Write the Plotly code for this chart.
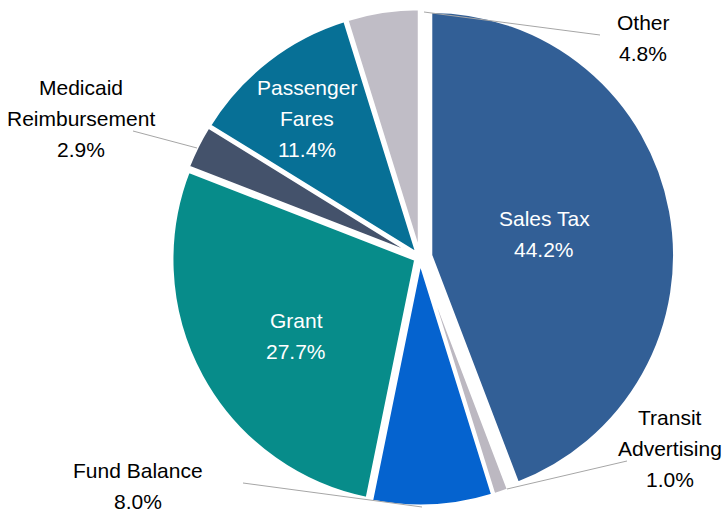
import plotly.graph_objects as go

labels = ["Sales Tax", "Transit Advertising", "Fund Balance", "Grant",
          "Medicaid Reimbursement", "Passenger Fares", "Other"]
values = [44.2, 1.0, 8.0, 27.7, 2.9, 11.4, 4.8]
colors = ["#325f96", "#bcb8c1", "#0563cf", "#078c8a", "#44526b", "#077096", "#c0bdc6"]
pulls = [0.045, 0.02, 0.02, 0.02, 0.02, 0.02, 0.02]

W, H = 724, 512

half = 0.995 * H / 2
cx = 420
fig = go.Figure(go.Pie(
    labels=labels, values=values, sort=False, direction="clockwise", rotation=0,
    marker=dict(colors=colors, line=dict(color="white", width=3)),
    pull=pulls, textinfo="none", hoverinfo="label+percent",
    domain=dict(x=[(cx - half) / W, (cx + half) / W], y=[0, 0.995]),
    showlegend=False,
))


def px(x):
    return x / W


def py(y):
    return 1 - y / H


LINE = 31
# label texts: lines, pixel centre x, pixel centre y of the block, colour
label_specs = [
    (["Sales Tax", "44.2%"], 544, 234, "white"),
    (["Grant", "27.7%"], 296, 336, "white"),
    (["Passenger", "Fares", "11.4%"], 307, 118, "white"),
    (["Other", "4.8%"], 643, 38, "black"),
    (["Medicaid", "Reimbursement", "2.9%"], 81, 118, "black"),
    (["Fund Balance", "8.0%"], 138, 486, "black"),
    (["Transit", "Advertising", "1.0%"], 670, 448, "black"),
]
for lines, x, y, col in label_specs:
    n = len(lines)
    for i, line in enumerate(lines):
        yy = y + (i - (n - 1) / 2) * LINE
        fig.add_annotation(x=px(x), y=py(yy), xref="paper", yref="paper", text=line,
                           showarrow=False, xanchor="center", yanchor="middle",
                           font=dict(family="Liberation Sans, Arial, sans-serif", size=21, color=col),
                           align="center")

# leader lines
leaders = [
    (424, 12, 600, 35),
    (133, 131, 197, 148),
    (243, 483, 422, 507),
    (507, 489, 627, 461),
]
for x0, y0, x1, y1 in leaders:
    fig.add_shape(type="line", xref="paper", yref="paper",
                  x0=px(x0), y0=py(y0), x1=px(x1), y1=py(y1),
                  line=dict(color="#a6a6a6", width=1))

fig.update_layout(width=W, height=H, margin=dict(l=0, r=0, t=0, b=0),
                  paper_bgcolor="white", plot_bgcolor="white")
fig.write_html("out.html", config={"displayModeBar": False},
               post_script="document.body.style.margin='0';")
